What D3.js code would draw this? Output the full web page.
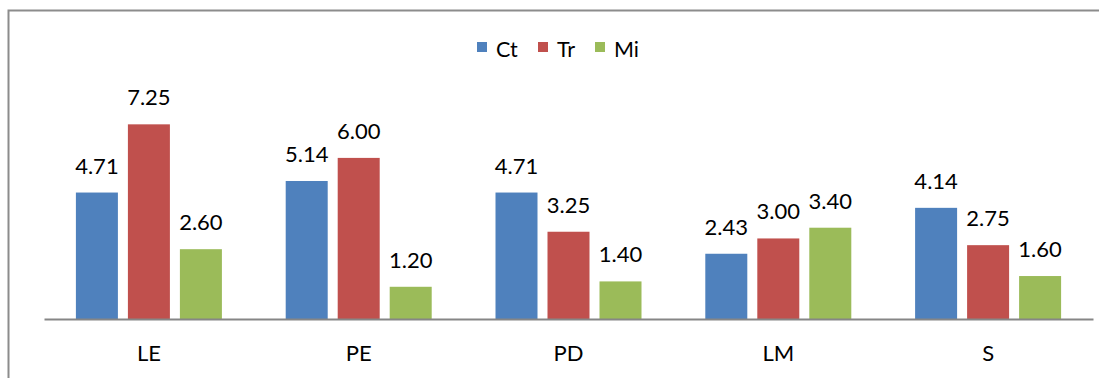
<!DOCTYPE html>
<html>
<head>
<meta charset="utf-8">
<script src="https://cdn.jsdelivr.net/npm/d3@7"></script>
<style>
  html, body { margin: 0; padding: 0; background: #fff; }
  svg { display: block; font-family: Lato, "Open Sans", sans-serif; }
</style>
</head>
<body>
<svg id="chart" width="1099" height="378"></svg>
<script>
const categories = ["LE", "PE", "PD", "LM", "S"];
const seriesNames = ["Ct", "Tr", "Mi"];
const ctValues = [4.71, 5.14, 4.71, 2.43, 4.14];
const trValues = [7.25, 6.00, 3.25, 3.00, 2.75];
const miValues = [2.60, 1.20, 1.40, 3.40, 1.60];
const colors = ["#4F81BD", "#C0504D", "#9BBB59"];

const seriesValues = [ctValues, trValues, miValues];
const data = categories.map((c, i) => ({
  cat: c,
  vals: seriesNames.map((s, j) => ({ series: s, value: seriesValues[j][i], color: colors[j] }))
}));

const svg = d3.select("#chart");

// outer frame (cropped on right and bottom)
svg.append("path")
  .attr("d", "M8.5,378 L8.5,10.5 L1099,10.5")
  .attr("fill", "none")
  .attr("stroke", "#8c8c8c")
  .attr("stroke-width", 2);

const plotLeft = 44, plotRight = 1093, axisY = 319;

const x0 = d3.scaleBand().domain(categories).range([plotLeft, plotRight]).paddingInner(0).paddingOuter(0);
const groupWidth = 42 * 3 + 10 * 2;
const x1 = d3.scaleBand().domain(seriesNames).range([0, groupWidth]).paddingInner(10 / 52).paddingOuter(0);
const y = d3.scaleLinear().domain([0, 8]).range([axisY, axisY - 8 * 26.85]);

const groups = svg.append("g").selectAll("g").data(data).join("g")
  .attr("transform", d => `translate(${x0(d.cat) + (x0.bandwidth() - groupWidth) / 2},0)`);

groups.selectAll("rect").data(d => d.vals).join("rect")
  .attr("x", d => x1(d.series))
  .attr("y", d => y(d.value))
  .attr("width", x1.bandwidth())
  .attr("height", d => y(0) - y(d.value))
  .attr("fill", d => d.color);

groups.selectAll("text").data(d => d.vals).join("text")
  .attr("x", d => x1(d.series) + x1.bandwidth() / 2)
  .attr("y", d => y(d.value) - 19)
  .attr("text-anchor", "middle")
  .attr("font-size", 22)
  .attr("fill", "#000")
  .text(d => d.value.toFixed(2));

// x axis
const xAxis = d3.axisBottom(x0).tickSize(0).tickPadding(0);
const axisG = svg.append("g").attr("transform", `translate(0,${axisY})`).call(xAxis);
axisG.select(".domain").attr("stroke", "#868686").attr("stroke-width", 2);
axisG.selectAll(".tick text")
  .attr("font-family", "Lato, 'Open Sans', sans-serif")
  .attr("font-size", 22)
  .attr("fill", "#000")
  .attr("dy", 0)
  .attr("y", 42);

// legend
const legendItems = [
  { name: "Ct", color: colors[0], x: 477 },
  { name: "Tr", color: colors[1], x: 538 },
  { name: "Mi", color: colors[2], x: 595 }
];
const lg = svg.append("g").selectAll("g").data(legendItems).join("g")
  .attr("transform", d => `translate(${d.x},0)`);
lg.append("rect").attr("x", 0).attr("y", 42).attr("width", 10).attr("height", 10).attr("fill", d => d.color);
lg.append("text").attr("x", 19).attr("y", 56.5).attr("font-size", 21.5).attr("fill", "#000").text(d => d.name);
</script>
</body>
</html>
